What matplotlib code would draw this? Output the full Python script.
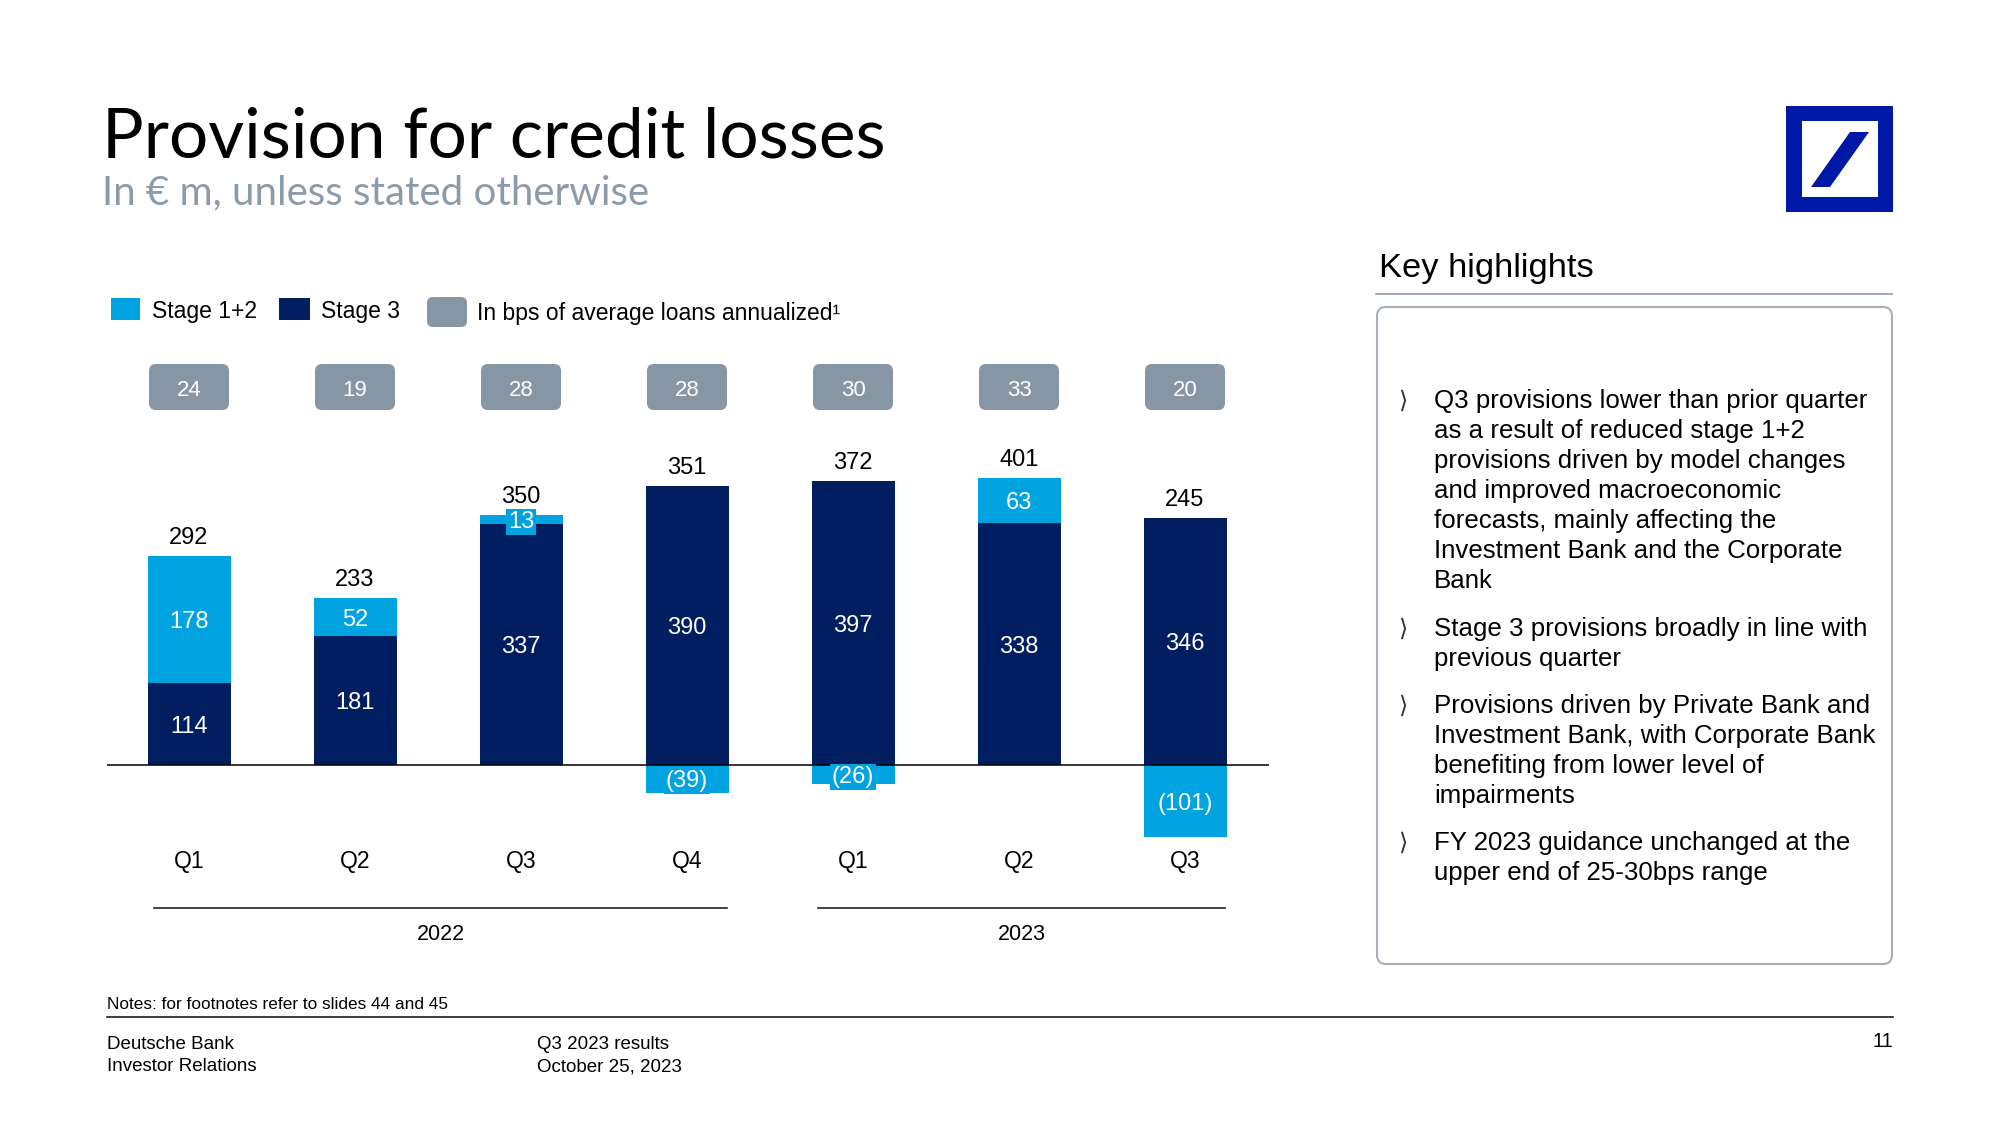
import numpy as np
import matplotlib
matplotlib.use('Agg')
import matplotlib.pyplot as plt
from matplotlib import transforms
from matplotlib.patches import FancyBboxPatch, Rectangle, Polygon

plt.rcParams['font.family'] = ['Liberation Sans', 'DejaVu Sans']

# data
quarters = ['Q1', 'Q2', 'Q3', 'Q4', 'Q1', 'Q2', 'Q3']
years = ['2022', '2023']
year_span = [(0, 3), (4, 6)]
stage12 = np.array([178, 52, 13, -39, -26, 63, -101])
stage3 = np.array([114, 181, 337, 390, 397, 338, 346])
totals = [292, 233, 350, 351, 372, 401, 245]
bps = [24, 19, 28, 28, 30, 33, 20]

bullets = [
    ['Q3 provisions lower than prior quarter',
     'as a result of reduced stage 1+2',
     'provisions driven by model changes',
     'and improved macroeconomic',
     'forecasts, mainly affecting the',
     'Investment Bank and the Corporate',
     'Bank'],
    ['Stage 3 provisions broadly in line with',
     'previous quarter'],
    ['Provisions driven by Private Bank and',
     'Investment Bank, with Corporate Bank',
     'benefiting from lower level of',
     'impairments'],
    ['FY 2023 guidance unchanged at the',
     'upper end of 25-30bps range'],
]
bullet_y = [408, 636, 713, 850]

LIGHT = '#00a3e0'
NAVY = '#001e60'
GRAY = '#8796a5'
LOGO = '#0018a8'

fig = plt.figure(figsize=(20, 11.25), dpi=100)

# background layer in pixel coordinates (origin top-left)
bg = fig.add_axes([0, 0, 1, 1])
bg.set_xlim(0, 2000)
bg.set_ylim(1125, 0)
bg.axis('off')

# chart axes
ax = fig.add_axes([107 / 2000, (1125 - 960) / 1125, 1162 / 2000, 620 / 1125])
ax.set_xlim(-0.494, 6.506)
ax.set_ylim(-272.7, 594.4)
ax.axis('off')

x = np.arange(len(quarters))
ax.bar(x, stage3, 0.5, color=NAVY, zorder=2)
ax.bar(x, stage12, 0.5, bottom=np.where(stage12 >= 0, stage3, 0), color=LIGHT, zorder=2)
ax.axhline(0, color='black', lw=1.1, zorder=3)

def fmt(v):
    return '(%d)' % -v if v < 0 else str(v)

for i in x:
    ax.text(i, stage3[i] / 2, fmt(stage3[i]), color='white', ha='center',
            va='center_baseline', fontsize=17, zorder=4)
    yc = stage3[i] + stage12[i] / 2 if stage12[i] >= 0 else stage12[i] / 2
    ax.text(i, yc, fmt(stage12[i]), color='white', ha='center', va='center_baseline',
            fontsize=17, zorder=4,
            bbox=dict(boxstyle='square,pad=0.08', fc=LIGHT, ec='none'))
    top = stage3[i] + max(stage12[i], 0)
    ax.annotate(str(totals[i]), (i, top), xytext=(0, 5), textcoords='offset points',
                ha='center', va='bottom', fontsize=17, zorder=4)

xb = transforms.blended_transform_factory(ax.transData, bg.transData)

# bps boxes
for i in x:
    cx = bg.transData.inverted().transform(ax.transData.transform((i, 0)))[0]
    bg.add_patch(FancyBboxPatch((cx - 40, 364), 80, 46,
                                boxstyle='round,pad=0,rounding_size=7',
                                fc=GRAY, ec='none'))
    bg.text(cx, 388, str(bps[i]), color='white', ha='center', va='center_baseline',
            fontsize=16)

# quarter and year labels
for i, q in enumerate(quarters):
    bg.text(i, 868, q, transform=xb, ha='center', va='baseline', fontsize=16.5)
for yr, (a, b) in zip(years, year_span):
    bg.plot([a - 0.21, b + 0.24], [908, 908], transform=xb, color='#222222', lw=1.2)
    bg.text((a + b) / 2 + 0.015, 940, yr, transform=xb, ha='center', va='baseline',
            fontsize=15.5)

# title
bg.text(102, 158, 'Provision for credit losses', fontsize=50, va='baseline',
        color='black', family=['Lato', 'Liberation Sans'])
bg.text(102, 204, 'In € m, unless stated otherwise', fontsize=29, va='baseline',
        color='#8c9baa', family=['Lato', 'Liberation Sans'])

# legend
bg.add_patch(Rectangle((111, 298), 29, 22, fc=LIGHT, ec='none'))
bg.text(152, 318, 'Stage 1+2', fontsize=16.5, va='baseline')
bg.add_patch(Rectangle((279, 298), 31, 22, fc=NAVY, ec='none'))
bg.text(321, 318, 'Stage 3', fontsize=16.5, va='baseline')
bg.add_patch(FancyBboxPatch((427, 297), 40, 30, boxstyle='round,pad=0,rounding_size=6',
                            fc=GRAY, ec='none'))
bg.text(477, 320, 'In bps of average loans annualized¹', fontsize=16.5, va='baseline')

# logo
bg.add_patch(Rectangle((1786, 106), 107, 106, fc=LOGO, ec='none'))
bg.add_patch(Rectangle((1802, 121), 76, 76, fc='white', ec='none'))
bg.add_patch(Polygon([(1850, 132), (1869, 132), (1830, 187), (1811, 187)],
                     closed=True, fc=LOGO, ec='none'))

# key highlights panel
bg.text(1379, 277, 'Key highlights', fontsize=24.8, va='baseline')
bg.plot([1376, 1892], [294, 294], color='#8c9baa', lw=1.2)
bg.add_patch(FancyBboxPatch((1377, 307), 515, 657, boxstyle='round,pad=0,rounding_size=9',
                            fc='white', ec='#a7b0b9', lw=1.5))
for lines, y0 in zip(bullets, bullet_y):
    bg.text(1398, y0, '⟩', fontsize=17, va='baseline', color='#333333',
            family=['DejaVu Sans'])
    for k, line in enumerate(lines):
        bg.text(1434, y0 + 30 * k, line, fontsize=18.6, va='baseline')

# footer
bg.text(107, 1009, 'Notes: for footnotes refer to slides 44 and 45', fontsize=12.4,
        va='baseline')
bg.plot([107, 1893], [1017, 1017], color='#1a1a1a', lw=1.2)
bg.text(107, 1049, 'Deutsche Bank', fontsize=13.5, va='baseline')
bg.text(107, 1071, 'Investor Relations', fontsize=13.5, va='baseline')
bg.text(537, 1049, 'Q3 2023 results', fontsize=13.5, va='baseline')
bg.text(537, 1071, 'October 25, 2023', fontsize=13.5, va='baseline')
bg.text(1893, 1047, '11', fontsize=14.5, va='baseline', ha='right')

fig.savefig('out.png', dpi=100)
